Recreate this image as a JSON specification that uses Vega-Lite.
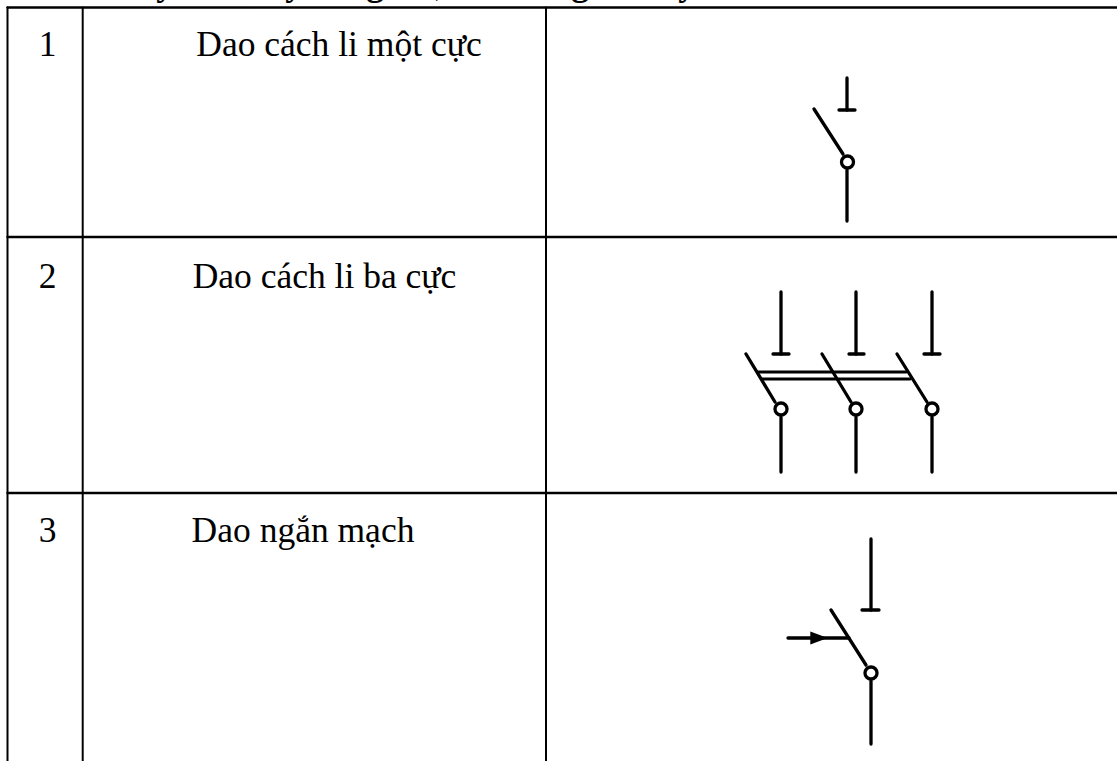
{"$schema":"https://vega.github.io/schema/vega-lite/v6.json","width":1117,"height":761,"autosize":{"type":"none"},"padding":0,"background":"white","config":{"view":{"stroke":null}},"layer":[{"data":{"values":[{"x":7.5,"y":7.5,"x2":1117,"y2":7.5,"w":2.4},{"x":7.5,"y":237,"x2":1117,"y2":237,"w":2.4},{"x":7.5,"y":493,"x2":1117,"y2":493,"w":2.4},{"x":7.5,"y":7.5,"x2":7.5,"y2":761,"w":2},{"x":82.7,"y":7.5,"x2":82.7,"y2":761,"w":2},{"x":546,"y":7.5,"x2":546,"y2":761,"w":2},{"x":847,"y":78,"x2":847,"y2":110,"w":3.3},{"x":839,"y":110,"x2":855,"y2":110,"w":3.3},{"x":814,"y":109,"x2":843,"y2":154,"w":3.3},{"x":847,"y":170,"x2":847,"y2":221,"w":3.3},{"x":781,"y":292,"x2":781,"y2":354,"w":3.3},{"x":856,"y":292,"x2":856,"y2":354,"w":3.3},{"x":932,"y":292,"x2":932,"y2":354,"w":3.3},{"x":773,"y":354,"x2":789,"y2":354,"w":3.3},{"x":849,"y":354,"x2":864,"y2":354,"w":3.3},{"x":924,"y":354,"x2":940,"y2":354,"w":3.3},{"x":746,"y":354,"x2":775,"y2":402,"w":3.3},{"x":822,"y":354,"x2":851,"y2":402,"w":3.3},{"x":897,"y":354,"x2":927,"y2":402,"w":3.3},{"x":781,"y":417,"x2":781,"y2":472,"w":3.3},{"x":856,"y":417,"x2":856,"y2":472,"w":3.3},{"x":932,"y":417,"x2":932,"y2":472,"w":3.3},{"x":758,"y":372,"x2":906,"y2":372,"w":3},{"x":762,"y":379,"x2":910,"y2":379,"w":3},{"x":871,"y":539,"x2":871,"y2":610,"w":3.3},{"x":862,"y":610,"x2":879,"y2":610,"w":3.3},{"x":831,"y":610,"x2":866,"y2":665,"w":3.3},{"x":871,"y":681,"x2":871,"y2":744,"w":3.3},{"x":788,"y":638,"x2":849,"y2":638,"w":3.3}]},"mark":{"type":"rule","strokeCap":"round","color":"black"},"encoding":{"x":{"field":"x","type":"quantitative","scale":{"domain":[0,1117],"nice":false,"zero":false},"axis":null},"y":{"field":"y","type":"quantitative","scale":{"domain":[761,0],"nice":false,"zero":false},"axis":null},"x2":{"field":"x2"},"y2":{"field":"y2"},"strokeWidth":{"field":"w","type":"quantitative","scale":null}}},{"data":{"values":[{"x":847.5,"y":162},{"x":781,"y":409},{"x":856,"y":409},{"x":932,"y":409},{"x":871,"y":673}]},"mark":{"type":"point","shape":"circle","filled":false,"fill":"white","fillOpacity":1,"stroke":"black","strokeWidth":3.3,"size":145,"opacity":1},"encoding":{"x":{"field":"x","type":"quantitative","axis":null},"y":{"field":"y","type":"quantitative","axis":null}}},{"data":{"values":[{"x":819,"y":638}]},"mark":{"type":"point","shape":"M-1,-0.75L-1,0.75L1,0Z","filled":true,"fill":"black","stroke":null,"size":300,"opacity":1},"encoding":{"x":{"field":"x","type":"quantitative","axis":null},"y":{"field":"y","type":"quantitative","axis":null}}},{"data":{"values":[{"x":47.7,"y":56,"t":"1"},{"x":47.7,"y":288,"t":"2"},{"x":47.7,"y":542,"t":"3"},{"x":339,"y":56,"t":"Dao cách li một cực"},{"x":324.5,"y":288,"t":"Dao cách li ba cực"},{"x":303,"y":542,"t":"Dao ngắn mạch"}]},"mark":{"type":"text","font":"Liberation Serif","fontSize":35.5,"color":"black","baseline":"alphabetic","align":"center"},"encoding":{"x":{"field":"x","type":"quantitative","axis":null},"y":{"field":"y","type":"quantitative","axis":null},"text":{"field":"t"}}},{"data":{"values":[{"x":165,"y":-5,"t":"y"},{"x":294,"y":-5,"t":"y"},{"x":375,"y":-5,"t":"g"},{"x":440,"y":-5,"t":","},{"x":580,"y":-5,"t":"g"},{"x":687,"y":-5,"t":"y"}]},"mark":{"type":"text","clip":true,"font":"Liberation Serif","fontWeight":"bold","fontSize":35.5,"color":"black","baseline":"alphabetic","align":"center"},"encoding":{"x":{"field":"x","type":"quantitative","axis":null},"y":{"field":"y","type":"quantitative","axis":null},"text":{"field":"t"}}}]}
